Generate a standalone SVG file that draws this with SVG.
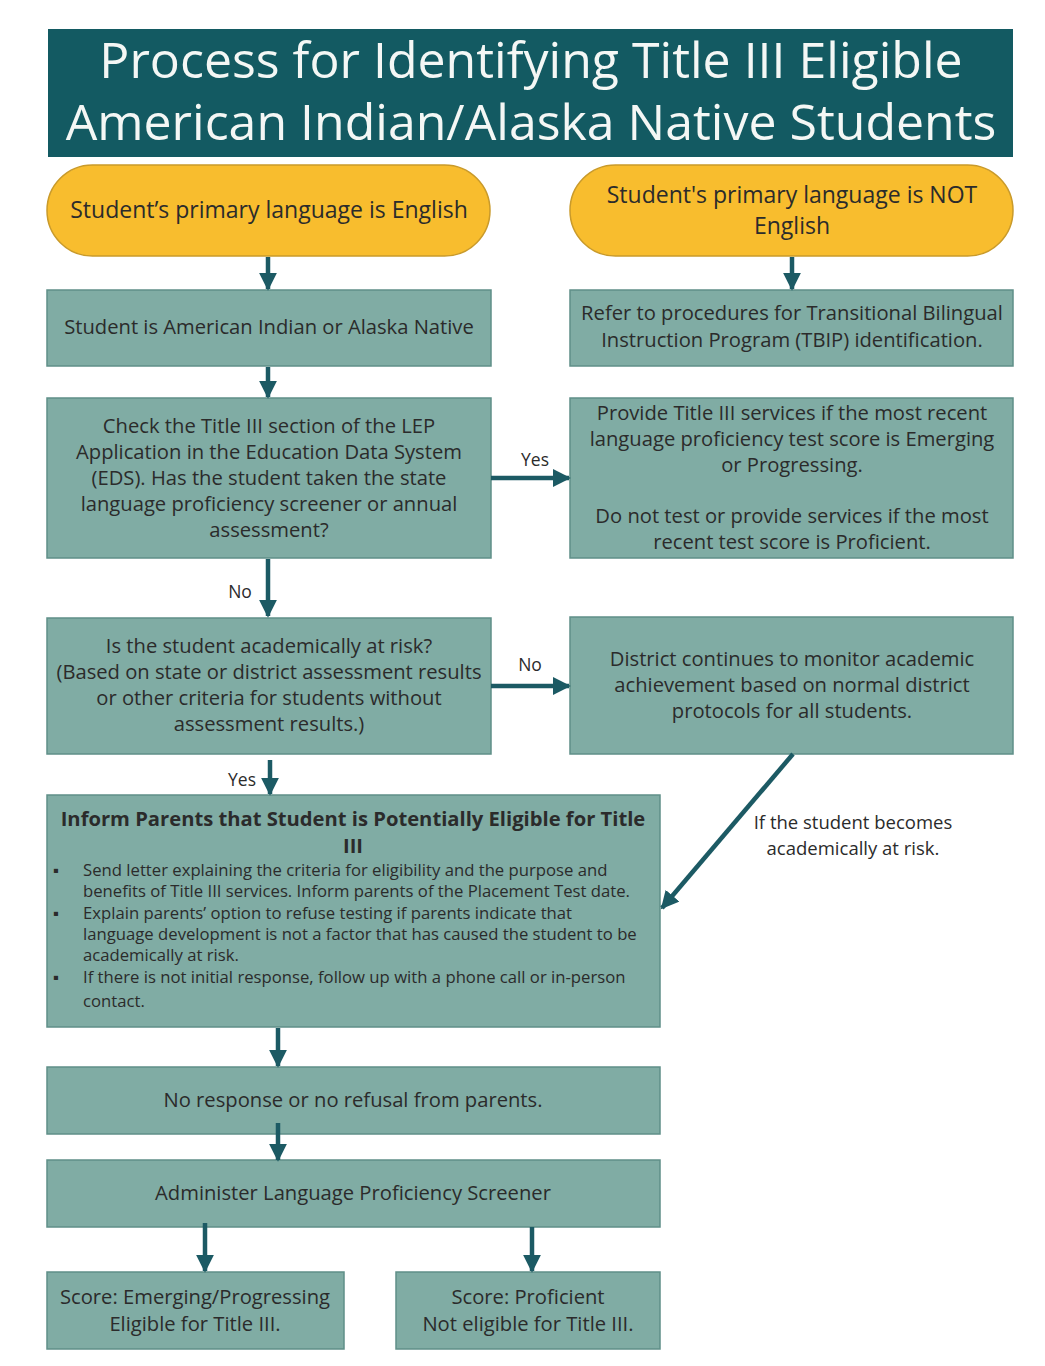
<svg xmlns="http://www.w3.org/2000/svg" width="1045" height="1366" viewBox="0 0 1045 1366">
<style>
text{font-family:"Open Sans","Noto Sans","Liberation Sans",sans-serif;fill:#2b2b2b}
.box{fill:#80aca4;stroke:#5f8f88;stroke-width:1.5}
.pill{fill:#f8bd2e;stroke:#c99a2a;stroke-width:1.5}
.t{font-size:20.2px;text-anchor:middle}
.p{font-size:23px;text-anchor:middle}
.s{font-size:16.7px}
.lbl{font-size:17.5px;text-anchor:middle}
.con{stroke:#1c5a64;stroke-width:4.5;fill:none}
</style>
<defs>
<marker id="ah" viewBox="0 0 10 10" refX="9" refY="5" markerWidth="4" markerHeight="4" orient="auto" markerUnits="strokeWidth">
<path d="M0,0 L10,5 L0,10 z" fill="#1c5a64"/>
</marker>
</defs>
<rect width="1045" height="1366" fill="#ffffff"/>
<g id="title">
<rect x="48" y="29" width="965" height="128" fill="#135a62"/>
<text x="531" y="78" text-anchor="middle" style="font-size:50px;fill:#f4f7f5">Process for Identifying Title III Eligible</text>
<text x="531" y="140" text-anchor="middle" style="font-size:50px;fill:#f4f7f5">American Indian/Alaska Native Students</text>
</g>
<g id="start-english">
<rect class="pill" x="47" y="165" width="443" height="91" rx="45.5"/>
<text class="p" x="269" y="218">Student’s primary language is English</text>
</g>
<g id="start-not-english">
<rect class="pill" x="570" y="165" width="443" height="91" rx="45.5"/>
<text class="p" x="792" y="203">Student's primary language is NOT</text>
<text class="p" x="792" y="234">English</text>
</g>
<g id="aian">
<rect class="box" x="47" y="290" width="444" height="76"/>
<text class="t" x="269" y="334">Student is American Indian or Alaska Native</text>
</g>
<g id="tbip">
<rect class="box" x="570" y="290" width="443" height="76"/>
<text class="t" x="792" y="320">Refer to procedures for Transitional Bilingual</text>
<text class="t" x="792" y="347">Instruction Program (TBIP) identification.</text>
</g>
<g id="check">
<rect class="box" x="47" y="398" width="444" height="160"/>
<text class="t" x="269" y="433">Check the Title III section of the LEP</text>
<text class="t" x="269" y="459">Application in the Education Data System</text>
<text class="t" x="269" y="485">(EDS). Has the student taken the state</text>
<text class="t" x="269" y="511">language proficiency screener or annual</text>
<text class="t" x="269" y="537">assessment?</text>
</g>
<g id="provide">
<rect class="box" x="570" y="398" width="443" height="160"/>
<text class="t" x="792" y="420">Provide Title III services if the most recent</text>
<text class="t" x="792" y="446">language proficiency test score is Emerging</text>
<text class="t" x="792" y="472">or Progressing.</text>
<text class="t" x="792" y="523">Do not test or provide services if the most</text>
<text class="t" x="792" y="549">recent test score is Proficient.</text>
</g>
<g id="atrisk">
<rect class="box" x="47" y="618" width="444" height="136"/>
<text class="t" x="269" y="653">Is the student academically at risk?</text>
<text class="t" x="269" y="679">(Based on state or district assessment results</text>
<text class="t" x="269" y="705">or other criteria for students without</text>
<text class="t" x="269" y="731">assessment results.)</text>
</g>
<g id="monitor">
<rect class="box" x="570" y="617" width="443" height="137"/>
<text class="t" x="792" y="666">District continues to monitor academic</text>
<text class="t" x="792" y="692">achievement based on normal district</text>
<text class="t" x="792" y="718">protocols for all students.</text>
</g>
<g id="inform">
<rect class="box" x="47" y="795" width="613" height="232"/>
<text class="t" x="353" y="826" style="font-weight:bold">Inform Parents that Student is Potentially Eligible for Title</text>
<text class="t" x="353" y="853" style="font-weight:bold">III</text>
<g class="s">
<text x="53" y="876">▪</text>
<text x="83" y="876">Send letter explaining the criteria for eligibility and the purpose and</text>
<text x="83" y="897">benefits of Title III services. Inform parents of the Placement Test date.</text>
<text x="53" y="919">▪</text>
<text x="83" y="919">Explain parents’ option to refuse testing if parents indicate that</text>
<text x="83" y="940">language development is not a factor that has caused the student to be</text>
<text x="83" y="961">academically at risk.</text>
<text x="53" y="983">▪</text>
<text x="83" y="983">If there is not initial response, follow up with a phone call or in-person</text>
<text x="83" y="1007">contact.</text>
</g>
</g>
<g id="noresponse">
<rect class="box" x="47" y="1067" width="613" height="67"/>
<text class="t" x="353" y="1107">No response or no refusal from parents.</text>
</g>
<g id="administer">
<rect class="box" x="47" y="1160" width="613" height="67"/>
<text class="t" x="353" y="1200">Administer Language Proficiency Screener</text>
</g>
<g id="score-emerging">
<rect class="box" x="47" y="1272" width="297" height="77"/>
<text class="t" x="195" y="1304">Score: Emerging/Progressing</text>
<text class="t" x="195" y="1331">Eligible for Title III.</text>
</g>
<g id="score-proficient">
<rect class="box" x="396" y="1272" width="264" height="77"/>
<text class="t" x="528" y="1304">Score: Proficient</text>
<text class="t" x="528" y="1331">Not eligible for Title III.</text>
</g>
<g id="connectors">
<line class="con" x1="268" y1="257" x2="268" y2="289" marker-end="url(#ah)"/>
<line class="con" x1="792" y1="257" x2="792" y2="289" marker-end="url(#ah)"/>
<line class="con" x1="268" y1="367" x2="268" y2="397" marker-end="url(#ah)"/>
<line class="con" x1="491" y1="478" x2="569" y2="478" marker-end="url(#ah)"/>
<line class="con" x1="268" y1="559" x2="268" y2="616" marker-end="url(#ah)"/>
<line class="con" x1="491" y1="686" x2="569" y2="686" marker-end="url(#ah)"/>
<line class="con" x1="270" y1="760" x2="270" y2="794" marker-end="url(#ah)"/>
<line class="con" x1="793" y1="754" x2="662" y2="908" marker-end="url(#ah)"/>
<line class="con" x1="278" y1="1028" x2="278" y2="1066" marker-end="url(#ah)"/>
<line class="con" x1="278" y1="1123" x2="278" y2="1160" marker-end="url(#ah)"/>
<line class="con" x1="205" y1="1223" x2="205" y2="1271" marker-end="url(#ah)"/>
<line class="con" x1="532" y1="1227" x2="532" y2="1271" marker-end="url(#ah)"/>
<text class="lbl" x="535" y="466">Yes</text>
<text class="lbl" x="240" y="598">No</text>
<text class="lbl" x="530" y="671">No</text>
<text class="lbl" x="242" y="786">Yes</text>
<text class="lbl" x="853" y="829" style="font-size:18.5px">If the student becomes</text>
<text class="lbl" x="853" y="855" style="font-size:18.5px">academically at risk.</text>
</g>
</svg>
